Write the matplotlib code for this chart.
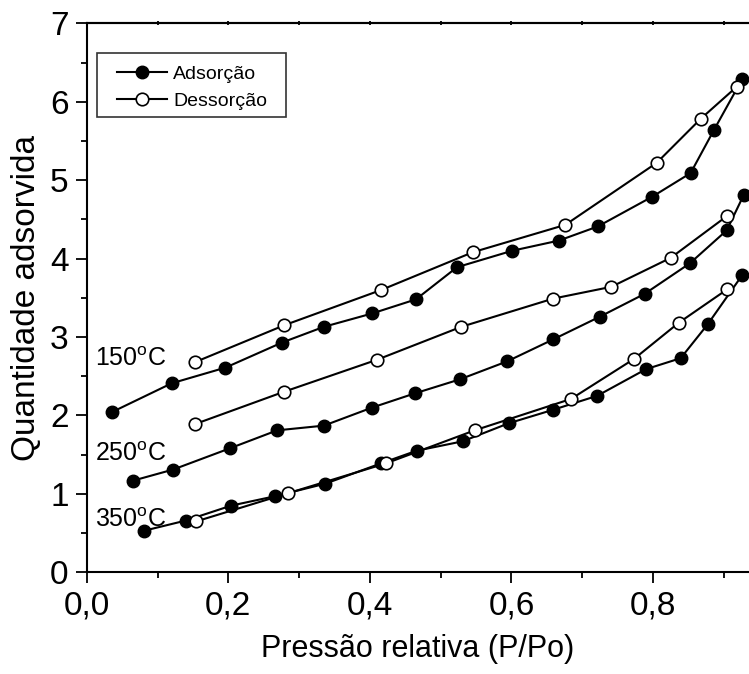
import matplotlib
matplotlib.use("Agg")
import matplotlib.pyplot as plt
from matplotlib.ticker import MultipleLocator
from matplotlib.patches import Rectangle

plt.rcParams['font.family'] = ['Liberation Sans', 'DejaVu Sans']
plt.rcParams['mathtext.fontset'] = 'custom'
plt.rcParams['mathtext.rm'] = 'Liberation Sans'

# 150 C
ads150_x = [0.035, 0.120, 0.196, 0.276, 0.335, 0.403, 0.465, 0.523, 0.601, 0.667, 0.722, 0.799, 0.853, 0.886, 0.926]
ads150_y = [2.04, 2.41, 2.61, 2.93, 3.13, 3.30, 3.48, 3.89, 4.10, 4.23, 4.41, 4.79, 5.09, 5.64, 6.29]
des150_x = [0.153, 0.279, 0.416, 0.545, 0.676, 0.805, 0.867, 0.918]
des150_y = [2.68, 3.15, 3.60, 4.08, 4.43, 5.22, 5.78, 6.19]

# 250 C
ads250_x = [0.066, 0.122, 0.202, 0.269, 0.335, 0.403, 0.463, 0.527, 0.594, 0.659, 0.725, 0.788, 0.852, 0.904, 0.928]
ads250_y = [1.17, 1.31, 1.58, 1.81, 1.87, 2.10, 2.28, 2.46, 2.69, 2.97, 3.26, 3.55, 3.94, 4.36, 4.81]
des250_x = [0.153, 0.278, 0.410, 0.529, 0.659, 0.741, 0.825, 0.904]
des250_y = [1.89, 2.30, 2.71, 3.13, 3.49, 3.64, 4.01, 4.54]

# 350 C
ads350_x = [0.081, 0.140, 0.204, 0.266, 0.337, 0.416, 0.466, 0.531, 0.596, 0.658, 0.721, 0.790, 0.839, 0.877, 0.926]
ads350_y = [0.53, 0.66, 0.85, 0.97, 1.13, 1.39, 1.55, 1.67, 1.90, 2.07, 2.25, 2.59, 2.73, 3.16, 3.79]
des350_x = [0.155, 0.285, 0.423, 0.548, 0.684, 0.773, 0.836, 0.905]
des350_y = [0.65, 1.01, 1.39, 1.81, 2.21, 2.72, 3.18, 3.61]

temp_labels = ['150$^\\mathrm{o}$C', '250$^\\mathrm{o}$C', '350$^\\mathrm{o}$C']
temp_label_y = [2.72, 1.51, 0.67]

xtick_vals = [0.0, 0.2, 0.4, 0.6, 0.8]
xtick_labels = ['0,0', '0,2', '0,4', '0,6', '0,8']
ytick_vals = [0, 1, 2, 3, 4, 5, 6, 7]

fig = plt.figure(figsize=(7.49, 6.74), dpi=100)
ax = fig.add_axes([0.1158, 0.1509, 0.8842, 0.8145])

ads_style = dict(color='black', lw=1.5, marker='o', ms=9, mfc='black', mec='black')
des_style = dict(color='black', lw=1.5, marker='o', ms=9, mfc='white', mec='black', mew=1.2)

ax.plot(ads150_x, ads150_y, label='Adsorção', **ads_style)
ax.plot(des150_x, des150_y, label='Dessorção', **des_style)
ax.plot(ads250_x, ads250_y, **ads_style)
ax.plot(des250_x, des250_y, **des_style)
ax.plot(ads350_x, ads350_y, **ads_style)
ax.plot(des350_x, des350_y, **des_style)

for lab, ty in zip(temp_labels, temp_label_y):
    ax.text(0.012, ty, lab, fontsize=18, va='center', ha='left')

ax.set_xlim(0, 0.9355)
ax.set_ylim(0, 7)
ax.set_xticks(xtick_vals)
ax.set_xticklabels(xtick_labels)
ax.set_yticks(ytick_vals)
ax.xaxis.set_minor_locator(MultipleLocator(0.1))
ax.yaxis.set_minor_locator(MultipleLocator(0.5))
ax.tick_params(axis='both', which='major', labelsize=24, direction='out', length=8, width=1.3, pad=5)
ax.tick_params(axis='both', which='minor', direction='out', length=4.5, width=1.3)
ax.spines['right'].set_visible(False)
for s in ['left', 'bottom', 'top']:
    ax.spines[s].set_linewidth(1.5)

# small ticks on the top spine
top = ax.secondary_xaxis('top')
top.set_xticks([0.1, 0.2, 0.3, 0.4, 0.5, 0.6, 0.7, 0.8, 0.9])
top.set_xticklabels([])
top.tick_params(direction='inout', length=3, width=1.3)
top.spines['top'].set_linewidth(1.5)

ax.set_xlabel('Pressão relativa (P/Po)', fontsize=22, labelpad=9)
ax.set_ylabel('Quantidade adsorvida', fontsize=24, labelpad=6)

# legend box drawn by hand, legend entries without frame
ax.add_patch(Rectangle((0.0156, 0.8293), 0.2853, 0.1166, transform=ax.transAxes,
                       fill=False, edgecolor='#333333', lw=1.2, zorder=5))
ax.legend(loc='center left', bbox_to_anchor=(0.0306, 0.883), fontsize=14,
          frameon=False, borderpad=0, handlelength=2.6, labelspacing=0.47,
          handletextpad=0.3)

fig.savefig('out.png', dpi=100)
